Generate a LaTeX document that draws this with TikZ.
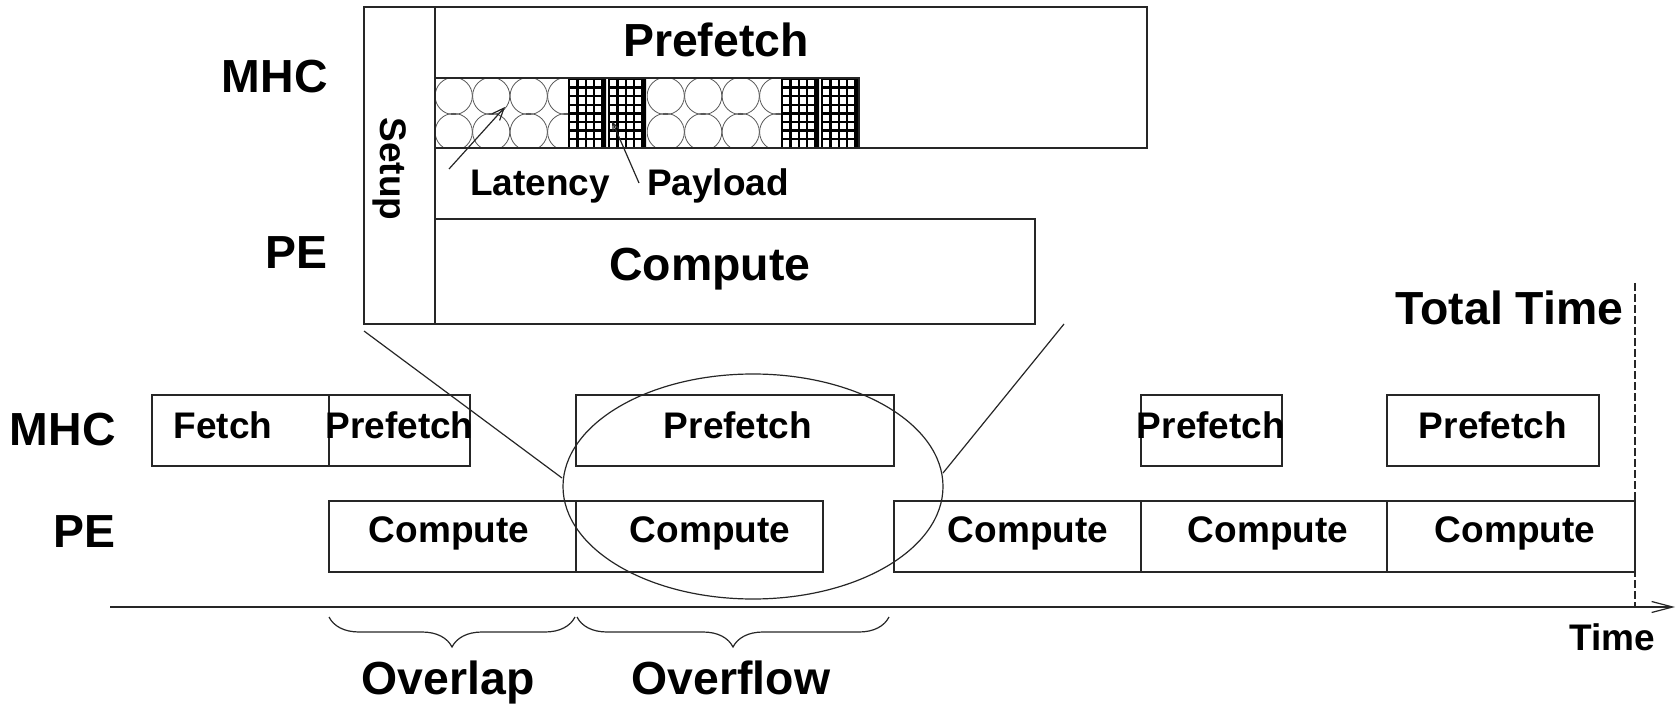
\documentclass[tikz,border=0pt]{standalone}
\usepackage{fontspec}
\setmainfont{Liberation Sans}
\usetikzlibrary{decorations.pathreplacing,arrows.meta}
\begin{document}
\begin{tikzpicture}[x=0.5pt,y=-0.5pt,
  big/.style={font=\fontsize{23.2}{27}\selectfont\bfseries, inner sep=0pt},
  small/.style={font=\fontsize{18.5}{22}\selectfont\bfseries, inner sep=0pt},
  frame/.style={draw=black!85, line width=0.7pt},
  thinline/.style={draw=black!85, line width=0.6pt},
  circ/.style={draw=black!65, line width=0.4pt},
  gridline/.style={draw=black, line width=1.25pt},
  barb/.style={-{Straight Barb[length=6pt,width=5pt]}},
]
\useasboundingbox (0,0) rectangle (1676,711);

% ---------- zoomed view (top) ----------
\draw[frame] (364,7) rectangle (435,324);
\draw[frame] (435,7) rectangle (1147,148);
\draw[frame] (435,219) rectangle (1035,324);

% latency pattern (circles)
\foreach \xa/\xb in {435/568, 647/781} {
  \begin{scope}
    \clip (\xa,78) rectangle (\xb,148);
    \foreach \k in {0,...,3}
      \foreach \yy in {96,132}
        \draw[circ] ({\xa+18.7+37.5*\k},\yy) circle[radius=9.3pt];
  \end{scope}
}
% payload pattern (grid)
\foreach \xa/\xb in {568/606, 608/646, 781/819, 821/859} {
  \begin{scope}
    \clip (\xa,78) rectangle (\xb,148);
    \foreach \k in {0,...,4}
      \draw[gridline] ({\xa+1+8.4*\k},78) -- ({\xa+1+8.4*\k},148);
    \draw[gridline] (\xb-0.5,78) -- (\xb-0.5,148);
    \foreach \k in {0,...,8}
      \draw[gridline] (\xa,{79+8.6*\k}) -- (\xb,{79+8.6*\k});
  \end{scope}
}
\draw[thinline] (435,78) rectangle (859,148);

\node[big, anchor=base] (pfTop) at (716,57) {Prefetch};
\node[big, anchor=base] (cpTop) at (710,281) {Compute};
\node[big, anchor=base east] (mhcTop) at (328,93) {MHC};
\node[big, anchor=base east] (peTop) at (328,269) {PE};
\node[small, rotate=-90] (setup) at (390,169) {Setup};
\node[small, anchor=base] (lat) at (540,196) {Latency};
\node[small, anchor=base] (pay) at (718,196) {Payload};

\coordinate (latTail) at (449,169);
\coordinate (latTip) at (505,107);
\coordinate (payTail) at (639,183);
\coordinate (payTip) at (612,121);
\draw[thinline, barb] (latTail) -- (latTip);
\draw[thinline, -{Straight Barb[length=4pt,width=3pt]}] (payTail) -- (payTip);

% ---------- timeline (bottom) ----------
\node[big, anchor=base east] (mhc) at (116,445) {MHC};
\node[big, anchor=base east] (pe) at (116,547) {PE};

\draw[frame] (152,395) rectangle (329,466);
\draw[frame] (329,395) rectangle (470,466);
\draw[frame] (576,395) rectangle (894,466);
\draw[frame] (1141,395) rectangle (1282,466);
\draw[frame] (1387,395) rectangle (1599,466);

\draw[frame] (329,501) rectangle (576,572);
\draw[frame] (576,501) rectangle (823,572);
\draw[frame] (894,501) rectangle (1141,572);
\draw[frame] (1141,501) rectangle (1387,572);
\draw[frame] (1387,501) rectangle (1635,572);

\node[small, anchor=base] (fetch) at (223,438) {Fetch};
\node[small, anchor=base] (pf1) at (399.5,438) {Prefetch};
\node[small, anchor=base] (pf2) at (738,438) {Prefetch};
\node[small, anchor=base] (pf3) at (1211,438) {Prefetch};
\node[small, anchor=base] (pf4) at (1493,438) {Prefetch};

\node[small, anchor=base] (cp1) at (449,542) {Compute};
\node[small, anchor=base] (cp2) at (710,542) {Compute};
\node[small, anchor=base] (cp3) at (1028,542) {Compute};
\node[small, anchor=base] (cp4) at (1268,542) {Compute};
\node[small, anchor=base] (cp5) at (1515,542) {Compute};

% ellipse and zoom lines
\draw[thinline] (753,486.5) ellipse[x radius=95pt, y radius=56.25pt];
\coordinate (zlA) at (364,331);
\coordinate (zlB) at (562,478);
\coordinate (zrA) at (1064,324);
\coordinate (zrB) at (943,473);
\draw[thinline] (zlA) -- (zlB);
\draw[thinline] (zrA) -- (zrB);

% time axis
\coordinate (t0) at (110,607);
\coordinate (t1) at (1675,607);
\draw[thinline, -{Straight Barb[length=10.5pt,width=5.5pt]}] (t0) -- (t1);
\node[small, anchor=base] (time) at (1612,650) {Time};

% total time
\coordinate (ttTop) at (1635,283);
\coordinate (ttBot) at (1635,607);
\draw[thinline, dash pattern=on 4pt off 1.5pt] (ttTop) -- (ttBot);
\node[big, anchor=base] (tt) at (1509.5,324) {Total Time};

% braces
\coordinate (b1r) at (575,617);
\coordinate (b1l) at (329,617);
\coordinate (b2r) at (889,617);
\coordinate (b2l) at (577,617);
\draw[thinline, decorate, decoration={brace, amplitude=15pt}] (b1r) -- (b1l);
\draw[thinline, decorate, decoration={brace, amplitude=15pt}] (b2r) -- (b2l);
\node[big, anchor=base] (ovl) at (448,694) {Overlap};
\node[big, anchor=base] (ovf) at (731,694) {Overflow};
\end{tikzpicture}
\end{document}
